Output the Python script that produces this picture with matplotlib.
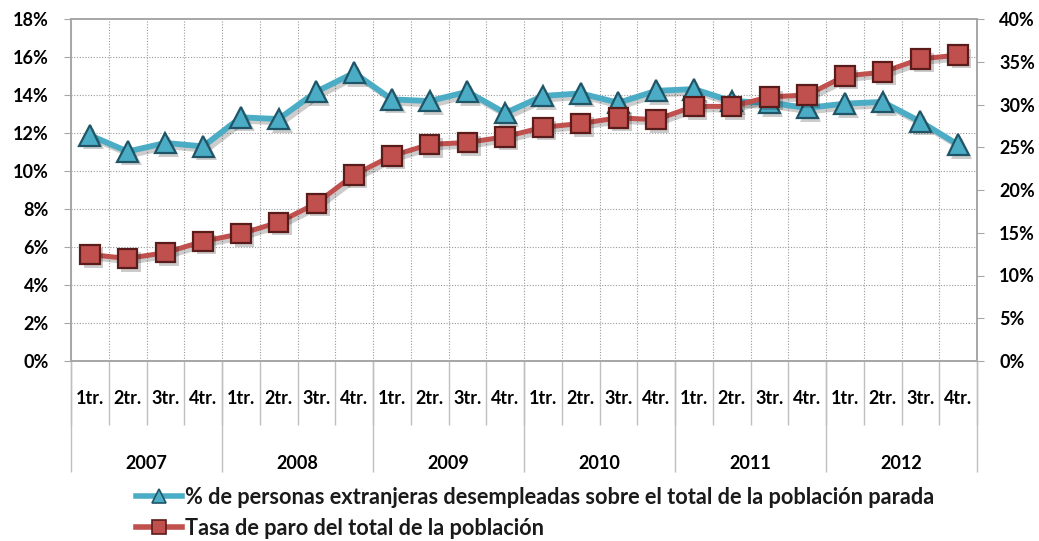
import matplotlib.pyplot as plt
import matplotlib.patheffects as pe
from matplotlib.lines import Line2D
from matplotlib.ticker import FixedLocator, FuncFormatter

# data
years = ['2007', '2008', '2009', '2010', '2011', '2012']
quarters = ['1tr.', '2tr.', '3tr.', '4tr.']

# Tasa de paro del total de la poblacion (left axis, %)
tasa_paro = [5.6, 5.4, 5.7, 6.3, 6.7, 7.3, 8.3, 9.8,
             10.8, 11.4, 11.5, 11.8, 12.3, 12.5, 12.8, 12.7,
             13.4, 13.4, 13.9, 14.0, 15.0, 15.2, 15.9, 16.1]
# % de personas extranjeras desempleadas (right axis, %)
pct_extranjeros = [26.4, 24.5, 25.5, 25.1, 28.5, 28.3, 31.5, 33.7,
                   30.6, 30.4, 31.5, 29.0, 31.0, 31.3, 30.2, 31.6,
                   31.8, 30.4, 30.2, 29.6, 30.1, 30.3, 28.0, 25.3]

lbl_ext = '% de personas extranjeras desempleadas sobre el total de la población parada'
lbl_paro = 'Tasa de paro del total de la población'

blue = '#4BACC6'
blue_edge = '#1F5566'
red = '#C0504D'
red_edge = '#5A1C1A'
grey = '#A6A6A6'

plt.rcParams['font.family'] = ['Lato', 'DejaVu Sans']
plt.rcParams['text.color'] = '#1A1A1A'
fs = 13

fig = plt.figure(figsize=(10.39, 5.41), dpi=100)
ax = fig.add_axes([71 / 1039, 1 - 361 / 541, 906 / 1039, 342 / 541])
ax2 = ax.twinx()

# host axis (red) drawn above the twin (blue)
ax.set_zorder(2)
ax2.set_zorder(1)
ax.patch.set_visible(False)
ax2.set_facecolor('#F2F2F2')

n = len(tasa_paro)
x = [i + 0.5 for i in range(n)]

ax.set_xlim(0, n)
ax.set_ylim(0, 18)
ax2.set_ylim(0, 40)

# grid on the lower axis so it sits under both lines
ax2.xaxis.set_visible(True)
ax2.tick_params(axis='x', which='both', length=0, labelbottom=False, labeltop=False)
ax2.yaxis.set_minor_locator(FixedLocator([k * 40 / 9 for k in range(1, 9)]))
ax2.grid(which='minor', axis='y', color='#9A9A9A', linestyle=(0, (1, 1.5)), linewidth=0.8)
ax2.grid(which='major', axis='x', color='#9A9A9A', linestyle=(0, (1, 1.5)), linewidth=0.8)
ax2.tick_params(axis='y', which='minor', length=0)

shadow_line = [pe.SimpleLineShadow(offset=(2.5, -2.5), shadow_color='k', alpha=0.2), pe.Normal()]
shadow_mark = [pe.SimplePatchShadow(offset=(2.5, -2.5), shadow_rgbFace='k', alpha=0.2), pe.Normal()]

ax2.plot(x, pct_extranjeros, color=blue, lw=4.2, solid_joinstyle='round', path_effects=shadow_line)
ax2.plot(x, pct_extranjeros, ls='none', marker='^', ms=15, mfc=blue, mec=blue_edge, mew=1.6,
         path_effects=shadow_mark)
ax.plot(x, tasa_paro, color=red, lw=3.6, solid_joinstyle='round', path_effects=shadow_line)
ax.plot(x, tasa_paro, ls='none', marker='s', ms=14, mfc=red, mec=red_edge, mew=1.6,
        path_effects=shadow_mark)

pct = FuncFormatter(lambda v, p: f'{v:.0f}%')
ax.set_yticks(range(0, 19, 2))
ax.yaxis.set_major_formatter(pct)
ax2.set_yticks(range(0, 41, 5))
ax2.yaxis.set_major_formatter(pct)
ax.tick_params(axis='y', which='major', length=5, color=grey, pad=11, labelsize=fs)
ax2.tick_params(axis='y', which='major', length=5, color=grey, pad=11, labelsize=fs)
for t in ax.get_yticklabels() + ax2.get_yticklabels():
    t.set_fontweight('bold')

for a in (ax, ax2):
    for s in a.spines.values():
        s.set_color(grey)
        s.set_linewidth(1.2)

# two level category axis
ax.set_xticks(range(0, n + 1))
ax.set_xticklabels([])
ax.set_xticks(x, minor=True)
ax.set_xticklabels([quarters[i % 4] for i in range(n)], minor=True, fontweight='bold')
ax.tick_params(axis='x', which='major', length=46, color='#BFBFBF', width=1)
ax.tick_params(axis='x', which='minor', length=0, pad=21, labelsize=fs)

sec = ax.secondary_xaxis('bottom')
sec.set_xticks(range(0, n + 1, 4))
sec.set_xticklabels([])
sec.set_xticks([4 * k + 2 for k in range(len(years))], minor=True)
sec.set_xticklabels(years, minor=True, fontweight='bold')
sec.tick_params(axis='x', which='major', length=80, color='#BFBFBF', width=1)
sec.tick_params(axis='x', which='minor', length=0, pad=68, labelsize=fs)
sec.spines['bottom'].set_visible(False)

handles = [
    Line2D([], [], color=blue, lw=4, marker='^', ms=10, mfc=blue, mec=blue_edge, mew=1.2),
    Line2D([], [], color=red, lw=4, marker='s', ms=10, mfc=red, mec=red_edge, mew=1.2),
]
fig.legend(handles, [lbl_ext, lbl_paro], loc='upper left', bbox_to_anchor=(136 / 1039, 1 - 487 / 541),
           frameon=False, handlelength=2.1, handletextpad=0.15, labelspacing=0.45,
           prop={'size': 15.7, 'weight': 'bold'}, borderpad=0, borderaxespad=0)

fig.savefig('out.png', dpi=100)
